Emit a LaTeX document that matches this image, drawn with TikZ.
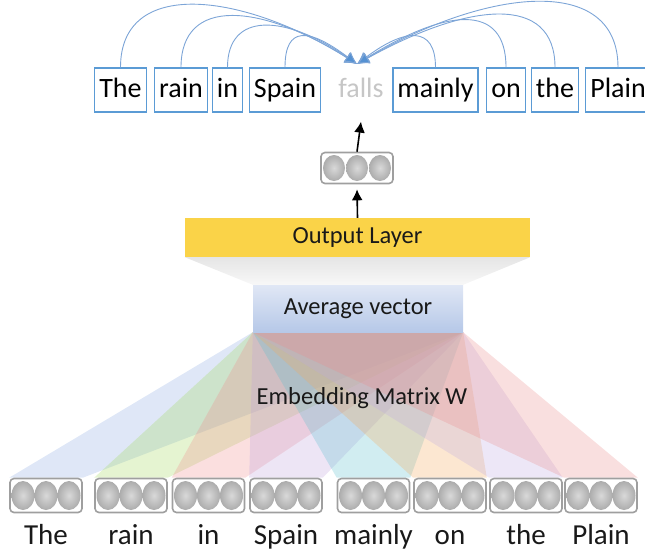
\documentclass[tikz,border=0pt]{standalone}
\usepackage{fontspec}
\setmainfont{Carlito}
\usepackage{xcolor}
\usepackage{tikz}
\usetikzlibrary{positioning,arrows.meta}

\definecolor{wordblue}{RGB}{91,155,213}
\definecolor{arcblue}{RGB}{125,165,215}
\definecolor{tipblue}{RGB}{85,145,210}
\definecolor{layergold}{RGB}{250,211,72}
\definecolor{avgtop}{RGB}{224,231,245}
\definecolor{avgbottom}{RGB}{182,200,232}
\definecolor{fanblue}{RGB}{140,170,225}
\definecolor{fangreen}{RGB}{160,215,90}
\definecolor{fanred}{RGB}{240,140,140}
\definecolor{fanpurple}{RGB}{190,160,220}
\definecolor{fanteal}{RGB}{90,190,205}
\definecolor{fanorange}{RGB}{245,170,90}
\definecolor{fanlilac}{RGB}{190,170,225}
\definecolor{fanpink}{RGB}{235,140,140}

\pgfdeclarelayer{bg}
\pgfsetlayers{bg,main}

\begin{document}
\begin{tikzpicture}[x=1pt, y=-1pt,
  wordnode/.style={draw=wordblue, line width=1.2pt, font=\fontsize{28}{30}\selectfont, inner xsep=4.5pt, inner ysep=8pt, text height=21pt, text depth=7pt},
  vecbox/.style={draw=gray!75, line width=1.6pt, rounded corners=4pt, fill=white, minimum width=72pt, minimum height=34pt},
  cell/.style={inner color=gray!30, outer color=gray!65},
  midtext/.style={font=\fontsize{24.5}{26}\selectfont, text=black!90},
  lbltext/.style={font=\fontsize{29}{31}\selectfont, text=black!90, anchor=base},
  ctxarc/.style={draw=arcblue, line width=0.9pt, -{Latex[length=12pt,width=12pt,fill=tipblue]}},
  uparrow/.style={line width=1.6pt, -{Latex[length=11pt,width=11pt]}}]

\useasboundingbox (0,0) rectangle (645,550);

% context words
\node[wordnode] (wThe) at (120.5,90) {The};
\node[wordnode] (wRain) at (181,90) {rain};
\node[wordnode] (wIn) at (227.5,90) {in};
\node[wordnode] (wSpain) at (285,90) {Spain};
\node[wordnode, draw=none, text=gray!45] (wFalls) at (361,90) {falls};
\node[wordnode] (wMainly) at (435.5,90) {mainly};
\node[wordnode] (wOn) at (506,90) {on};
\node[wordnode] (wthe) at (555,90) {the};
\node[wordnode] (wPlain) at (618,90) {Plain};

\coordinate (tip) at (357,64);
\draw[ctxarc] (wThe.north) .. controls +(0,-90) and +(-115,-72) .. (tip);
\draw[ctxarc] (wRain.north) .. controls +(0,-72) and +(-95,-60) .. (tip);
\draw[ctxarc] (wIn.north) .. controls +(0,-56) and +(-72,-50) .. (tip);
\draw[ctxarc] (wSpain.north) .. controls +(0,-42) and +(-48,-36) .. (tip);
\draw[ctxarc] (wMainly.north) .. controls +(0,-42) and +(48,-36) .. (tip);
\draw[ctxarc] (wOn.north) .. controls +(0,-66) and +(88,-55) .. (tip);
\draw[ctxarc] (wthe.north) .. controls +(0,-74) and +(112,-62) .. (tip);
\draw[ctxarc] (wPlain.north) .. controls +(0,-94) and +(130,-76) .. (tip);

% predicted vector and layers
\node[vecbox, minimum height=31pt] (vOut) at (357,168) {};
\foreach \k in {-1,0,1}
  \shade[cell] ([xshift=\k*23pt]vOut.center) ellipse (11pt and 13pt);

\node[fill=layergold, minimum width=345pt, minimum height=39pt, midtext] (outLayer) at (357.5,237.5) {Output Layer};
\node[top color=avgtop, bottom color=avgbottom, minimum width=210pt, minimum height=47pt, midtext] (avg) at (358,308.5) {Average vector};

\draw[uparrow] (outLayer.north) -- ([yshift=-5pt]vOut.south);
\draw[uparrow] (vOut.north) -- ([yshift=-9pt]wFalls.south);

% input word vectors
\foreach \n/\x/\w in {vThe/46/The, vRain/131/rain, vIn/208.5/in, vSpain/286/Spain, vMainly/373.5/mainly, vOn/450/on, vthe/526/the, vPlain/601/Plain} {
  \node[vecbox] (\n) at (\x,495.5) {};
  \foreach \k in {-1,0,1}
    \shade[cell] ([xshift=\k*23pt]\n.center) ellipse (11.5pt and 14.5pt);
  \node[lbltext] (l\n) at (\x,544) {\w};
}

\node[midtext] (embText) at (362,398) {Embedding Matrix W};

\begin{pgfonlayer}{bg}
\shade[top color=gray!20, bottom color=gray!6] (outLayer.south west) -- (outLayer.south east) -- (avg.north east) -- (avg.north west) -- cycle;
\foreach \n/\c in {vThe/fanblue, vRain/fangreen, vIn/fanred, vSpain/fanpurple, vMainly/fanteal, vOn/fanorange, vthe/fanlilac, vPlain/fanpink}
  \fill[\c, fill opacity=0.28] (\n.north west) -- (avg.south west) -- (avg.south east) -- (\n.north east) -- cycle;
\end{pgfonlayer}

\end{tikzpicture}
\end{document}
